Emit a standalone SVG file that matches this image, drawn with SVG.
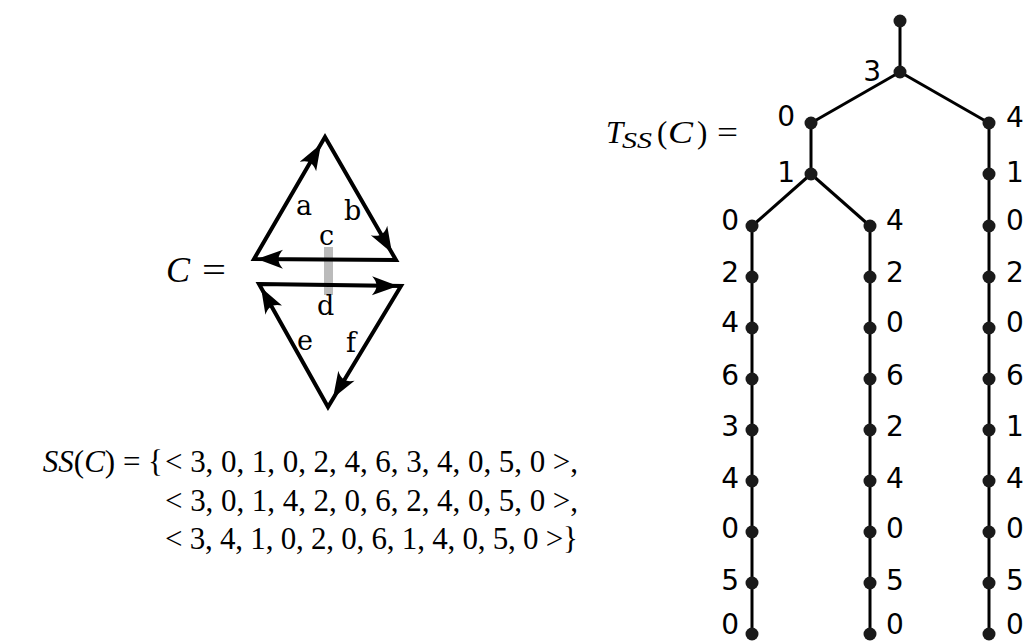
<svg xmlns="http://www.w3.org/2000/svg" xmlns:xlink="http://www.w3.org/1999/xlink" width="1027" height="641" viewBox="0 0 1027 641">
<style>
.math{font-family:"Liberation Serif","Times New Roman",serif;fill:#000}
.it{font-style:italic}
.el{font-family:"DejaVu Serif",serif;font-size:27px;fill:#000}
.lbl{font-family:"DejaVu Sans",sans-serif;font-size:28px;fill:#000}
.edge{stroke:#000;stroke-width:3;fill:none}
.dot{fill:#1a1a1a}
.tri{fill:none;stroke:#000;stroke-width:4;stroke-linejoin:miter}
</style>
<defs>
<path id="ah" d="M0,0 L-26,-9.5 C-20,-3 -20,3 -26,9.5 Z" fill="#000"/>
</defs>
<rect width="1027" height="641" fill="#fff"/>

<!-- Graph C -->
<g id="graph-C">
<rect x="324" y="247" width="9" height="48" fill="#bbbbbb"/>
<polygon class="tri" points="396,260 254,259 325,137"/>
<polygon class="tri" points="259,284 401,286 328,407"/>
<use xlink:href="#ah" href="#ah" transform="translate(321,144) rotate(-59.8)"/>
<use xlink:href="#ah" href="#ah" transform="translate(392,253) rotate(60)"/>
<use xlink:href="#ah" href="#ah" transform="translate(257,259) rotate(180.4)"/>
<use xlink:href="#ah" href="#ah" transform="translate(398,286) rotate(0.8)"/>
<use xlink:href="#ah" href="#ah" transform="translate(261,287.5) rotate(-119.3)"/>
<use xlink:href="#ah" href="#ah" transform="translate(333,398) rotate(121.1)"/>
</g>
<g id="edge-labels">
<text class="el" x="296" y="215">a</text>
<text class="el" x="344" y="220">b</text>
<text class="el" x="319" y="245">c</text>
<text class="el" x="317" y="315">d</text>
<text class="el" x="297" y="350">e</text>
<text class="el" x="346" y="352">f</text>
</g>
<g id="label-C">
<text class="math it" x="166" y="282" font-size="36">C</text>
<text class="math" x="202" y="282" font-size="36" textLength="24" lengthAdjust="spacingAndGlyphs">=</text>
</g>

<!-- SS(C) formula -->
<g id="formula-SS">
<text class="math" x="163" y="472" font-size="31" text-anchor="end"><tspan class="it">SS</tspan>(<tspan class="it">C</tspan>) = {</text>
<text class="math" x="165" y="472" font-size="31" textLength="413" lengthAdjust="spacing">&lt; 3, 0, 1, 0, 2, 4, 6, 3, 4, 0, 5, 0 &gt;,</text>
<text class="math" x="165" y="511" font-size="31" textLength="413" lengthAdjust="spacing">&lt; 3, 0, 1, 4, 2, 0, 6, 2, 4, 0, 5, 0 &gt;,</text>
<text class="math" x="165" y="549" font-size="31" textLength="413" lengthAdjust="spacing">&lt; 3, 4, 1, 0, 2, 0, 6, 1, 4, 0, 5, 0 &gt;}</text>
</g>

<!-- T_SS(C) = -->
<g id="label-T">
<text class="math it" x="606" y="143" font-size="31">T</text>
<text class="math it" x="622" y="148" font-size="23" textLength="30" lengthAdjust="spacingAndGlyphs">SS</text>
<text class="math" x="657" y="143" font-size="31">(</text>
<text class="math it" x="668" y="143" font-size="31" textLength="25" lengthAdjust="spacingAndGlyphs">C</text>
<text class="math" x="697" y="143" font-size="31">)</text>
<text class="math" x="717" y="143" font-size="31" textLength="21" lengthAdjust="spacingAndGlyphs">=</text>
</g>

<!-- Tree connectors -->
<g id="connectors">
<line class="edge" x1="900" y1="21" x2="900" y2="72"/>
<line class="edge" x1="900" y1="72" x2="811" y2="123"/>
<line class="edge" x1="900" y1="72" x2="989" y2="123"/>
<line class="edge" x1="811" y1="123" x2="811" y2="174"/>
<line class="edge" x1="811" y1="174" x2="752" y2="226"/>
<line class="edge" x1="811" y1="174" x2="870" y2="226"/>
<line class="edge" x1="989" y1="123" x2="989" y2="174"/>
<line class="edge" x1="989" y1="174" x2="989" y2="226"/>
<line class="edge" x1="752" y1="226" x2="752" y2="277"/>
<line class="edge" x1="752" y1="277" x2="752" y2="328"/>
<line class="edge" x1="752" y1="328" x2="752" y2="379"/>
<line class="edge" x1="752" y1="379" x2="752" y2="430"/>
<line class="edge" x1="752" y1="430" x2="752" y2="481"/>
<line class="edge" x1="752" y1="481" x2="752" y2="532"/>
<line class="edge" x1="752" y1="532" x2="752" y2="583"/>
<line class="edge" x1="752" y1="583" x2="752" y2="634"/>
<line class="edge" x1="870" y1="226" x2="870" y2="277"/>
<line class="edge" x1="870" y1="277" x2="870" y2="328"/>
<line class="edge" x1="870" y1="328" x2="870" y2="379"/>
<line class="edge" x1="870" y1="379" x2="870" y2="430"/>
<line class="edge" x1="870" y1="430" x2="870" y2="481"/>
<line class="edge" x1="870" y1="481" x2="870" y2="532"/>
<line class="edge" x1="870" y1="532" x2="870" y2="583"/>
<line class="edge" x1="870" y1="583" x2="870" y2="634"/>
<line class="edge" x1="989" y1="226" x2="989" y2="277"/>
<line class="edge" x1="989" y1="277" x2="989" y2="328"/>
<line class="edge" x1="989" y1="328" x2="989" y2="379"/>
<line class="edge" x1="989" y1="379" x2="989" y2="430"/>
<line class="edge" x1="989" y1="430" x2="989" y2="481"/>
<line class="edge" x1="989" y1="481" x2="989" y2="532"/>
<line class="edge" x1="989" y1="532" x2="989" y2="583"/>
<line class="edge" x1="989" y1="583" x2="989" y2="634"/>
</g>

<!-- Tree nodes -->
<g id="n-root"><circle class="dot" cx="900" cy="21" r="6.5"/></g>
<g id="n-3"><circle class="dot" cx="900" cy="72" r="6.5"/><text class="lbl" x="881" y="81" text-anchor="end">3</text></g>
<g id="n-L0"><circle class="dot" cx="811" cy="123" r="6.5"/><text class="lbl" x="795" y="126" text-anchor="end">0</text></g>
<g id="n-L1"><circle class="dot" cx="811" cy="174" r="6.5"/><text class="lbl" x="795" y="182" text-anchor="end">1</text></g>
<g id="n-R4"><circle class="dot" cx="989" cy="123" r="6.5"/><text class="lbl" x="1006" y="127">4</text></g>
<g id="n-R1"><circle class="dot" cx="989" cy="174" r="6.5"/><text class="lbl" x="1006" y="182">1</text></g>

<g id="n-a1"><circle class="dot" cx="752" cy="226" r="6.5"/><text class="lbl" x="739" y="230" text-anchor="end">0</text></g>
<g id="n-a2"><circle class="dot" cx="752" cy="277" r="6.5"/><text class="lbl" x="739" y="282" text-anchor="end">2</text></g>
<g id="n-a3"><circle class="dot" cx="752" cy="328" r="6.5"/><text class="lbl" x="739" y="332" text-anchor="end">4</text></g>
<g id="n-a4"><circle class="dot" cx="752" cy="379" r="6.5"/><text class="lbl" x="739" y="385" text-anchor="end">6</text></g>
<g id="n-a5"><circle class="dot" cx="752" cy="430" r="6.5"/><text class="lbl" x="739" y="436" text-anchor="end">3</text></g>
<g id="n-a6"><circle class="dot" cx="752" cy="481" r="6.5"/><text class="lbl" x="739" y="488" text-anchor="end">4</text></g>
<g id="n-a7"><circle class="dot" cx="752" cy="532" r="6.5"/><text class="lbl" x="739" y="538" text-anchor="end">0</text></g>
<g id="n-a8"><circle class="dot" cx="752" cy="583" r="6.5"/><text class="lbl" x="739" y="590" text-anchor="end">5</text></g>
<g id="n-a9"><circle class="dot" cx="752" cy="634" r="6.5"/><text class="lbl" x="739" y="634" text-anchor="end">0</text></g>

<g id="n-b1"><circle class="dot" cx="870" cy="226" r="6.5"/><text class="lbl" x="886" y="230">4</text></g>
<g id="n-b2"><circle class="dot" cx="870" cy="277" r="6.5"/><text class="lbl" x="886" y="282">2</text></g>
<g id="n-b3"><circle class="dot" cx="870" cy="328" r="6.5"/><text class="lbl" x="886" y="332">0</text></g>
<g id="n-b4"><circle class="dot" cx="870" cy="379" r="6.5"/><text class="lbl" x="886" y="385">6</text></g>
<g id="n-b5"><circle class="dot" cx="870" cy="430" r="6.5"/><text class="lbl" x="886" y="436">2</text></g>
<g id="n-b6"><circle class="dot" cx="870" cy="481" r="6.5"/><text class="lbl" x="886" y="488">4</text></g>
<g id="n-b7"><circle class="dot" cx="870" cy="532" r="6.5"/><text class="lbl" x="886" y="538">0</text></g>
<g id="n-b8"><circle class="dot" cx="870" cy="583" r="6.5"/><text class="lbl" x="886" y="590">5</text></g>
<g id="n-b9"><circle class="dot" cx="870" cy="634" r="6.5"/><text class="lbl" x="886" y="634">0</text></g>

<g id="n-c1"><circle class="dot" cx="989" cy="226" r="6.5"/><text class="lbl" x="1006" y="230">0</text></g>
<g id="n-c2"><circle class="dot" cx="989" cy="277" r="6.5"/><text class="lbl" x="1006" y="282">2</text></g>
<g id="n-c3"><circle class="dot" cx="989" cy="328" r="6.5"/><text class="lbl" x="1006" y="332">0</text></g>
<g id="n-c4"><circle class="dot" cx="989" cy="379" r="6.5"/><text class="lbl" x="1006" y="385">6</text></g>
<g id="n-c5"><circle class="dot" cx="989" cy="430" r="6.5"/><text class="lbl" x="1006" y="436">1</text></g>
<g id="n-c6"><circle class="dot" cx="989" cy="481" r="6.5"/><text class="lbl" x="1006" y="488">4</text></g>
<g id="n-c7"><circle class="dot" cx="989" cy="532" r="6.5"/><text class="lbl" x="1006" y="538">0</text></g>
<g id="n-c8"><circle class="dot" cx="989" cy="583" r="6.5"/><text class="lbl" x="1006" y="590">5</text></g>
<g id="n-c9"><circle class="dot" cx="989" cy="634" r="6.5"/><text class="lbl" x="1006" y="634">0</text></g>
</svg>
